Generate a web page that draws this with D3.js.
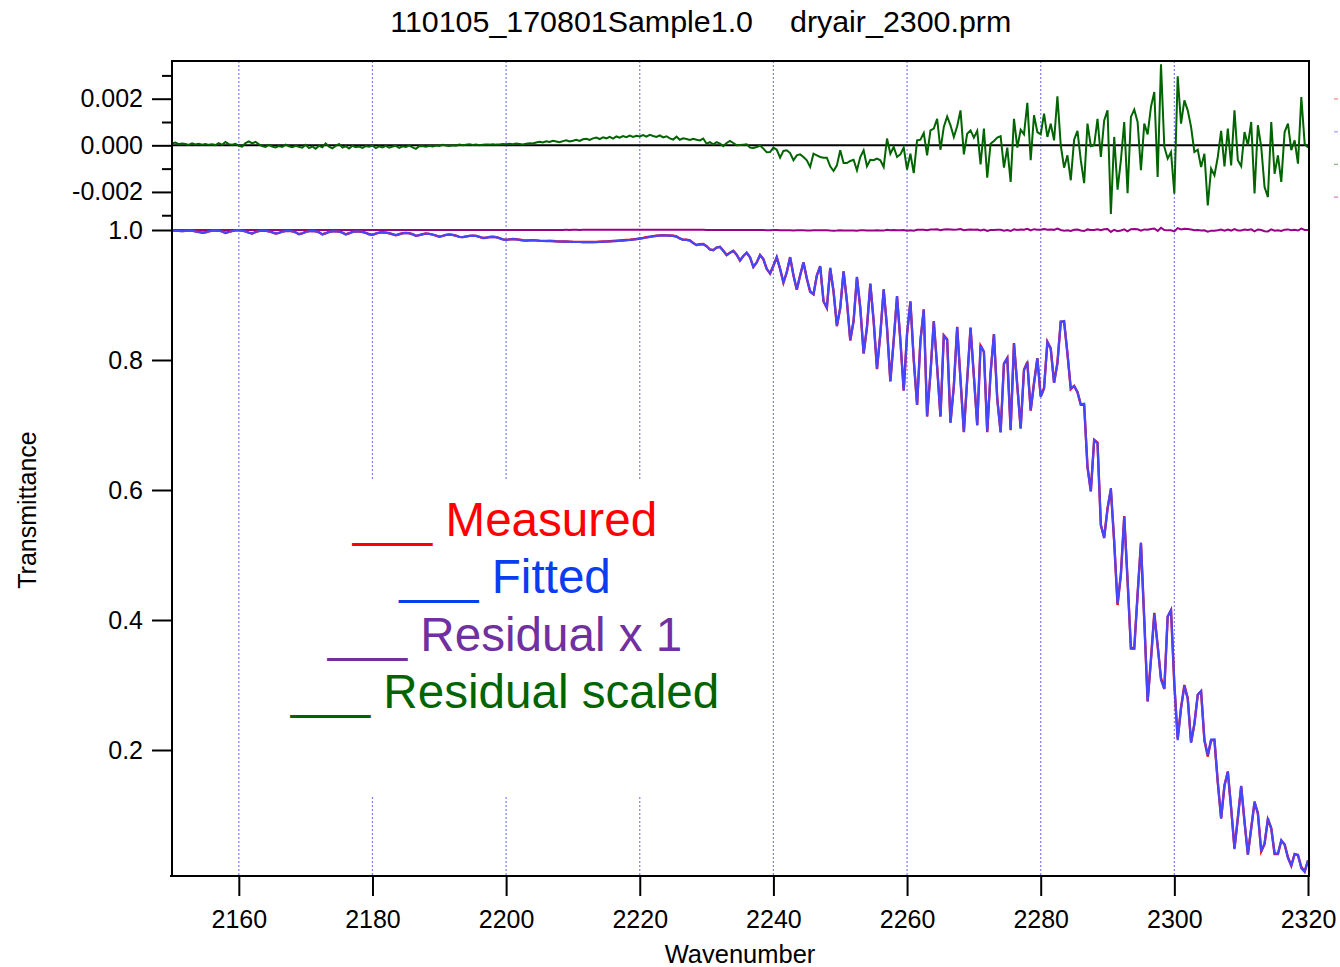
<!DOCTYPE html>
<html>
<head>
<meta charset="utf-8">
<script src="https://cdn.jsdelivr.net/npm/d3@7/dist/d3.min.js"></script>
<style>
    html, body { margin: 0; padding: 0; background: #fff; }
    svg { display: block; font-family: "Liberation Sans", Arial, sans-serif; }
</style>
</head>
<body>
<svg id="chart" width="1340" height="967"></svg>
<script>
// Spectrum fit plot: measured / fitted transmittance + residuals

// sampling of the spectrum (cm-1)
const waveStart = 2150;
const waveStep = 0.5;

// measured transmittance, one value per 0.5 cm-1 from 2150 to 2320
const measured = [
    0.999, 0.999, 0.9988, 0.9985, 0.9988, 0.999, 0.999, 0.998, 0.997, 0.9958,
    0.9965, 0.998, 0.999, 0.9992, 0.999, 0.9978, 0.9955, 0.997, 0.9985, 0.9995,
    0.9995, 0.999, 0.998, 0.996, 0.9945, 0.997, 0.9985, 0.999, 0.9988, 0.998,
    0.9965, 0.9945, 0.9955, 0.9975, 0.9985, 0.9988, 0.998, 0.9965, 0.9935, 0.9948,
    0.997, 0.9982, 0.9985, 0.998, 0.9965, 0.9932, 0.995, 0.997, 0.998, 0.998,
    0.9975, 0.996, 0.9932, 0.995, 0.997, 0.9978, 0.9978, 0.997, 0.9955, 0.9935,
    0.9925, 0.9945, 0.996, 0.9965, 0.996, 0.995, 0.9935, 0.992, 0.9935, 0.995,
    0.9955, 0.995, 0.9935, 0.991, 0.992, 0.9935, 0.9945, 0.994, 0.993, 0.9915,
    0.9898, 0.991, 0.9925, 0.993, 0.9925, 0.9912, 0.9895, 0.989, 0.99, 0.991,
    0.9913, 0.991, 0.9895, 0.9878, 0.988, 0.9892, 0.9895, 0.989, 0.9875, 0.9855,
    0.9848, 0.9855, 0.9862, 0.9858, 0.985, 0.9842, 0.9838, 0.984, 0.9842, 0.984,
    0.9835, 0.9832, 0.9832, 0.9833, 0.983, 0.9826, 0.9824, 0.9822, 0.9822, 0.982,
    0.9818, 0.9818, 0.9817, 0.9816, 0.9815, 0.9815, 0.9816, 0.9818, 0.982, 0.9822,
    0.9825, 0.9827, 0.983, 0.9834, 0.9838, 0.9842, 0.9846, 0.985, 0.9856, 0.9862,
    0.987, 0.9878, 0.9888, 0.9897, 0.9905, 0.9912, 0.9918, 0.992, 0.9918, 0.9915,
    0.9912, 0.990, 0.987, 0.985, 0.985, 0.984, 0.980, 0.977, 0.978, 0.9785,
    0.975, 0.970, 0.969, 0.973, 0.974, 0.968, 0.9615, 0.965, 0.968, 0.962,
    0.953, 0.960, 0.965, 0.958, 0.943, 0.950, 0.9615, 0.955, 0.940, 0.933,
    0.945, 0.958, 0.940, 0.919, 0.935, 0.958, 0.930, 0.908, 0.930, 0.950,
    0.925, 0.905, 0.901, 0.930, 0.944, 0.890, 0.880, 0.941, 0.905, 0.852,
    0.880, 0.936, 0.890, 0.830, 0.860, 0.927, 0.880, 0.810, 0.850, 0.917,
    0.860, 0.786, 0.840, 0.908, 0.850, 0.767, 0.830, 0.898, 0.830, 0.753,
    0.840, 0.890, 0.800, 0.731, 0.830, 0.878, 0.713, 0.780, 0.860, 0.790,
    0.713, 0.838, 0.832, 0.704, 0.760, 0.851, 0.770, 0.689, 0.770, 0.850,
    0.775, 0.700, 0.822, 0.813, 0.689, 0.780, 0.840, 0.740, 0.689, 0.794,
    0.803, 0.692, 0.826, 0.760, 0.695, 0.785, 0.797, 0.722, 0.765, 0.803,
    0.744, 0.757, 0.828, 0.818, 0.765, 0.796, 0.859, 0.859, 0.810, 0.755,
    0.760, 0.751, 0.731, 0.731, 0.636, 0.598, 0.677, 0.673, 0.546, 0.527,
    0.572, 0.600, 0.520, 0.423, 0.470, 0.560, 0.460, 0.357, 0.357, 0.440,
    0.518, 0.400, 0.275, 0.340, 0.411, 0.360, 0.311, 0.294, 0.405, 0.415,
    0.300, 0.218, 0.265, 0.300, 0.280, 0.212, 0.240, 0.285, 0.290, 0.215,
    0.190, 0.215, 0.215, 0.150, 0.095, 0.145, 0.167, 0.110, 0.049, 0.095,
    0.144, 0.090, 0.039, 0.080, 0.119, 0.103, 0.044, 0.055, 0.093, 0.080,
    0.040, 0.040, 0.060, 0.055, 0.035, 0.022, 0.040, 0.038, 0.020, 0.013,
    0.030
];

// residual (measured - fitted) in units of 0.001, same sampling
const residualMilli = [
    0.08, 0.12, 0.05, 0.08, 0.06, 0.02, 0.09, 0.04, 0.07, 0.03,
    0.06, 0.02, 0.04, 0.01, 0.09, 0.02, 0.14, 0.05, 0.03, 0.06,
    -0.02, -0.06, 0.10, 0.17, 0.08, 0.15, 0.04, -0.03, -0.07, 0.02,
    -0.05, -0.09, -0.03, -0.07, 0.03, -0.04, -0.08, -0.02, -0.06, -0.10,
    0.02, -0.12, -0.05, -0.15, -0.02, -0.08, 0.08, -0.06, -0.13, -0.03,
    0.06, -0.10, -0.04, -0.14, -0.02, -0.08, -0.05, -0.11, -0.03, -0.06,
    -0.01, -0.12, -0.04, -0.09, -0.02, -0.10, -0.05, -0.02, -0.11, -0.04,
    -0.07, -0.01, -0.09, -0.15, -0.04, -0.03, -0.06, -0.02, -0.05, -0.01,
    -0.03, 0.02, -0.01, -0.03, 0.00, -0.02, 0.03, 0.00, 0.02, 0.04,
    0.01, 0.03, 0.00, 0.02, 0.04, 0.03, 0.05, 0.03, 0.04, 0.06,
    0.05, 0.07, 0.05, 0.08, 0.06, 0.04, 0.07, 0.09, 0.08, 0.12,
    0.15, 0.12, 0.17, 0.14, 0.19, 0.16, 0.13, 0.18, 0.22, 0.17,
    0.20, 0.24, 0.19, 0.26, 0.28, 0.23, 0.30, 0.33, 0.27, 0.34,
    0.30, 0.36, 0.29, 0.38, 0.33, 0.40, 0.35, 0.42, 0.36, 0.41,
    0.38, 0.44, 0.37, 0.45, 0.40, 0.36, 0.43, 0.34, 0.39, 0.30,
    0.25, 0.37, 0.24, 0.30, 0.27, 0.23, 0.28, 0.24,
    0.21, 0.29, 0.07, 0.14, 0.04, 0.14, 0.07, -0.04, 0.10, 0.19,
    0.10, 0.00, 0.01, 0.03, 0.04, -0.10, -0.11, -0.07, -0.01, -0.14,
    -0.30, -0.29, -0.10, -0.19, -0.53, -0.24, -0.21, -0.33, -0.64, -0.43,
    -0.39, -0.50, -0.64, -0.93, -0.36, -0.43, -0.50, -0.53, -0.53, -0.90,
    -1.10, -0.86, -0.21, -0.76, -0.76, -0.67, -0.62, -1.07, -0.50, -0.21,
    -0.90, -0.62, -0.64, -0.57, -0.64, -0.93, 0.29, -0.36, -0.07, -0.50,
    -0.39, -0.10, -1.04, -0.36, -1.19, 0.21, 0.24, 0.53, -0.43, 0.64,
    0.72, 1.14, -0.19, 0.79, 1.24, 0.86, 0.36, 0.82, 1.50, -0.39,
    0.50, 0.64, 0.33, 0.62, -0.82, 0.72, -1.39, 0.07, 0.19, 0.33,
    0.39, -0.96, -0.10, -1.57, 1.14, -0.10, 0.67, 0.47, 1.82, -0.64,
    1.29, 0.57, 0.47, 1.36, 0.36, 0.93, 0.21, 2.10, 0.00, -0.96,
    -0.43, -1.50, 0.24, 0.62, -0.64, -1.62, 0.93, -0.04, 0.00, 1.14,
    -0.50, 1.07, 1.50, -2.95, 0.36, -1.90, -0.64, 1.00, -2.05, 1.22,
    1.53, 1.00, -1.07, 0.93, 0.47, 1.65, 2.29, -1.36, 3.48, -0.07,
    -0.57, -0.29, -2.07, 2.96, 0.93, 1.93, 1.50, 0.79, -0.29, -0.19,
    -0.93, -0.36, -2.58, -1.00, -1.29, -0.50, 0.62, -0.90, 0.72, -0.86,
    1.50, -0.64, -0.90, 0.57, 0.00, 1.00, -2.07, 0.86, -0.07, -1.79,
    -2.22, 1.00, -1.22, -0.43, -1.57, 0.57, 0.93, -0.21, 0.21, -0.79,
    2.07, 0.07, -0.10
];

// axis ticks
const waveTicks = [2160, 2180, 2200, 2220, 2240, 2260, 2280, 2300, 2320];
const residTicks = [-0.002, 0.000, 0.002];
const residMinorTicks = [-0.003, -0.001, 0.001, 0.003];
const transTicks = [0.2, 0.4, 0.6, 0.8, 1.0];

// legend
const legendLabels = ['Measured', 'Fitted', 'Residual x 1', 'Residual scaled'];
const legendColors = ['#ff0000', '#0a3cf0', '#7030a0', '#006400'];

const colors = {
    measured: '#ff0000',
    fitted: '#4646ff',
    resid1: '#990088',
    residScaled: '#006400',
    grid: '#7c7cff'
};

renderChart();

function renderChart() {
    const svg = d3.select('#chart');
    const plot = { left: 172, right: 1308, top: 61, bottom: 876 };

    const wavenumbers = measured.map((_, i) => waveStart + i * waveStep);
    const residual = residualMilli.map(r => r / 1000);
    const fitted = measured.map((m, i) => m - residual[i]);
    const residOne = residual.map(r => 1 + r);

    const x = d3.scaleLinear().domain([2150, 2320]).range([plot.left, plot.right]);
    const yT = d3.scaleLinear().domain([0.0077, 1.0]).range([875, 230]);
    const yR = d3.scaleLinear().domain([-0.00329, 0.003575]).range([222, 62]);

    // vertical dotted grid
    svg.append('g').selectAll('line')
        .data(waveTicks.filter(t => t < 2320))
        .enter().append('line')
        .attr('x1', d => x(d)).attr('x2', d => x(d))
        .attr('y1', plot.top).attr('y2', plot.bottom)
        .attr('stroke', colors.grid)
        .attr('stroke-width', 1.2)
        .attr('stroke-dasharray', '2,2');

    // white box behind the legend
    svg.append('rect')
        .attr('x', 282).attr('y', 480)
        .attr('width', 446).attr('height', 317)
        .attr('fill', '#fff');

    // zero line of the residual panel
    svg.append('line')
        .attr('x1', plot.left).attr('x2', plot.right + 1)
        .attr('y1', yR(0)).attr('y2', yR(0))
        .attr('stroke', '#000').attr('stroke-width', 2);

    const lineOf = (values, yScale) => d3.line()
        .x((d, i) => x(wavenumbers[i]))
        .y(d => yScale(d))(values);

    svg.append('path').attr('d', lineOf(residual, yR))
        .attr('fill', 'none').attr('stroke', colors.residScaled).attr('stroke-width', 2);
    svg.append('path').attr('d', lineOf(residOne, yT))
        .attr('fill', 'none').attr('stroke', colors.resid1).attr('stroke-width', 2);
    svg.append('path').attr('d', lineOf(measured, yT))
        .attr('fill', 'none').attr('stroke', colors.measured).attr('stroke-width', 2.4);
    svg.append('path').attr('d', lineOf(fitted, yT))
        .attr('fill', 'none').attr('stroke', colors.fitted).attr('stroke-width', 2.2);

    // axes
    const tickFont = 25;
    const gResid = svg.append('g').attr('transform', `translate(${plot.left},0)`);
    gResid.call(d3.axisLeft(yR).tickValues(residTicks).tickSize(20).tickSizeOuter(0)
        .tickPadding(9).tickFormat(d => d.toFixed(3)));
    gResid.append('g').call(d3.axisLeft(yR).tickValues(residMinorTicks).tickSize(10)
        .tickSizeOuter(0).tickFormat(''));

    const gTrans = svg.append('g').attr('transform', `translate(${plot.left},0)`);
    gTrans.call(d3.axisLeft(yT).tickValues(transTicks).tickSize(20).tickSizeOuter(0)
        .tickPadding(9).tickFormat(d => d.toFixed(1)));

    const gWave = svg.append('g').attr('transform', `translate(0,${plot.bottom})`);
    gWave.call(d3.axisBottom(x).tickValues(waveTicks).tickSize(20).tickSizeOuter(0)
        .tickPadding(14).tickFormat(d3.format('d')));

    svg.selectAll('.domain').remove();
    svg.selectAll('.tick line').attr('stroke', '#000').attr('stroke-width', 2);
    svg.selectAll('.tick text')
        .attr('fill', '#000')
        .style('font-size', tickFont + 'px')
        .style('font-family', '"Liberation Sans", Arial, sans-serif');

    // frame
    const frame = svg.append('g').attr('stroke', '#000').attr('stroke-width', 2).attr('fill', 'none');
    frame.append('path')
        .attr('d', `M${plot.left},${plot.bottom} V${plot.top} H${plot.right + 1} V${plot.bottom}`);
    frame.append('line')
        .attr('x1', plot.left - 2).attr('x2', plot.right + 2)
        .attr('y1', plot.bottom).attr('y2', plot.bottom);

    // title and axis titles
    svg.append('text')
        .attr('x', 753).attr('y', 32)
        .attr('text-anchor', 'end')
        .style('font-size', '30.4px')
        .text('110105_170801Sample1.0');
    svg.append('text')
        .attr('x', 790).attr('y', 32)
        .style('font-size', '30.4px')
        .text('dryair_2300.prm');

    svg.append('text')
        .attr('x', (plot.left + plot.right) / 2).attr('y', 963)
        .attr('text-anchor', 'middle')
        .style('font-size', '25.5px')
        .text('Wavenumber');
    svg.append('text')
        .attr('transform', 'translate(36,510) rotate(-90)')
        .attr('text-anchor', 'middle')
        .style('font-size', '25px')
        .text('Transmittance');

    // legend
    svg.append('g').selectAll('text')
        .data(legendLabels)
        .enter().append('text')
        .attr('x', 505)
        .attr('y', (d, i) => 536 + i * 57.3)
        .attr('text-anchor', 'middle')
        .attr('fill', (d, i) => legendColors[i])
        .style('font-size', '47.6px')
        .text(d => '___ ' + d);

    // clipped legend marks at the right edge
    svg.append('g').selectAll('line')
        .data([colors.measured, '#4040ff', colors.residScaled, colors.resid1])
        .enter().append('line')
        .attr('x1', 1334).attr('x2', 1338)
        .attr('y1', (d, i) => 99 + i * 32.7).attr('y2', (d, i) => 99 + i * 32.7)
        .attr('stroke', d => d).attr('stroke-width', 1.5).attr('opacity', 0.4);
}
</script>
</body>
</html>
